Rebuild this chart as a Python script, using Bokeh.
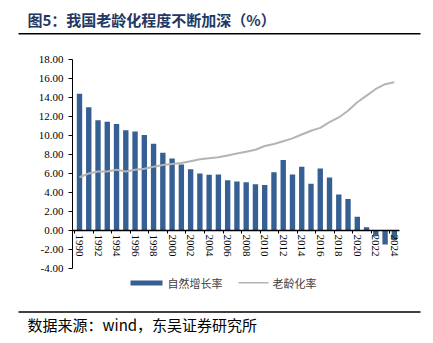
from bokeh.plotting import figure
from bokeh.models import (Range1d, FixedTicker, NumeralTickFormatter, Label,
                          BoxAnnotation, LinearAxis, ColumnDataSource)
from bokeh.embed import file_html
from bokeh.resources import INLINE

years = list(range(1990, 2025))
natural_growth = [14.39, 12.98, 11.60, 11.45, 11.21, 10.55, 10.42, 10.06, 9.14, 8.18,
                  7.58, 6.95, 6.45, 6.01, 5.87, 5.89, 5.28, 5.17, 5.08, 4.87,
                  4.79, 6.13, 7.43, 5.90, 6.71, 4.93, 6.53, 5.58, 3.78, 3.32,
                  1.45, 0.34, -0.60, -1.48, -0.99]
aging_rate = [5.6, 6.0, 6.2, 6.2, 6.4, 6.2, 6.4, 6.5, 6.7, 6.9,
              7.0, 7.1, 7.3, 7.5, 7.6, 7.7, 7.9, 8.1, 8.3, 8.5,
              8.9, 9.1, 9.4, 9.7, 10.1, 10.5, 10.8, 11.4, 11.9, 12.6,
              13.5, 14.2, 14.9, 15.4, 15.6]
y_ticks = [-4, -2, 0, 2, 4, 6, 8, 10, 12, 14, 16, 18]
x_label_years = list(range(1990, 2025, 2))
title_text = "图5：我国老龄化程度不断加深（%）"
source_text = "数据来源：wind，东吴证券研究所"
series_names = ["自然增长率", "老龄化率"]

BAR_COLOR = "#365f93"
LINE_COLOR = "#b4b4b4"

W, H = 433, 343
# pixel layout of the plot area (canvas coords, y down)
PX_1990, PX_PER_YEAR = 79.0, 9.26
PY_ZERO, PX_PER_UNIT = 230.0, 9.5
AXIS_LEFT_PX, AXIS_RIGHT_PX = 72.0, 399.0

x_start = 1990 - PX_1990 / PX_PER_YEAR
x_end = 1990 + (W - PX_1990) / PX_PER_YEAR
y_end = PY_ZERO / PX_PER_UNIT
y_start = (PY_ZERO - H) / PX_PER_UNIT
x_axis_left = 1990 + (AXIS_LEFT_PX - PX_1990) / PX_PER_YEAR
x_axis_right = 1990 + (AXIS_RIGHT_PX - PX_1990) / PX_PER_YEAR

src = ColumnDataSource(dict(year=years, growth=natural_growth, aging=aging_rate))

p = figure(width=W, height=H, output_backend="svg", toolbar_location=None,
           x_range=Range1d(x_start, x_end), y_range=Range1d(y_start, y_end),
           min_border_left=0, min_border_right=0,
           min_border_top=0, min_border_bottom=0)
p.outline_line_color = None
p.xgrid.visible = False
p.ygrid.visible = False
p.background_fill_color = "white"
p.border_fill_color = "white"

p.vbar(x="year", top="growth", bottom=0, width=0.58, source=src,
       fill_color=BAR_COLOR, line_color=None)
p.line(x="year", y="aging", source=src, line_color=LINE_COLOR, line_width=2)

# y axis
ya = p.yaxis[0]
ya.fixed_location = x_axis_left
ya.bounds = (y_ticks[0], y_ticks[-1])
ya.ticker = FixedTicker(ticks=y_ticks)
ya.formatter = NumeralTickFormatter(format="0.00")
ya.major_tick_in = 0
ya.major_tick_out = 4
ya.minor_tick_line_color = None
ya.major_label_standoff = 5
ya.major_label_text_font = "Liberation Serif"
ya.major_label_text_font_size = "11px"
ya.major_label_text_color = "black"
ya.axis_line_color = "black"
ya.major_tick_line_color = "black"

# x axis at zero
xa = p.xaxis[0]
xa.fixed_location = 0
xa.bounds = (x_axis_left, x_axis_right)
xa.ticker = FixedTicker(ticks=x_label_years)
xa.major_label_orientation = "vertical"
xa.major_tick_in = 0
xa.major_tick_out = 0
xa.minor_tick_line_color = None
xa.major_label_standoff = 4
xa.major_label_text_font = "Liberation Serif"
xa.major_label_text_font_size = "11px"
xa.major_label_text_color = "black"
xa.axis_line_color = "black"
xa.axis_line_width = 1.5

tick_pos = [y - 0.5 for y in x_label_years]
xa2 = LinearAxis(ticker=FixedTicker(ticks=tick_pos), fixed_location=0,
                 major_label_overrides={t: "" for t in tick_pos},
                 axis_line_color=None, major_tick_in=0, major_tick_out=3,
                 major_tick_line_color="black", minor_tick_line_color=None)
p.add_layout(xa2, "below")


def sx(cx):
    return cx


def sy(cy):
    return H - cy


def rule(x0, x1, y0, y1, color):
    p.add_layout(BoxAnnotation(left=sx(x0), right=sx(x1), top=sy(y0), bottom=sy(y1),
                               left_units="screen", right_units="screen",
                               top_units="screen", bottom_units="screen",
                               fill_color=color, fill_alpha=1, line_color=None))


def text(cx, cy, s, size, color, bold=False):
    p.add_layout(Label(x=sx(cx), y=sy(cy), x_units="screen", y_units="screen",
                       text=s, text_font="Noto Sans CJK SC", text_font_size=size,
                       text_color=color, text_baseline="middle", text_align="left",
                       text_font_style="bold" if bold else "normal"))


text(27, 19, title_text, "15px", "#1f3864", bold=True)
rule(18, 420, 32.5, 34, "black")
rule(18, 420, 310.7, 312.2, "black")
text(27, 324, source_text, "15px", "black")

rule(130, 162, 280, 285, BAR_COLOR)
text(167, 282.5, series_names[0], "11px", "#404040")
rule(238, 268, 281.5, 283, LINE_COLOR)
text(272, 282.5, series_names[1], "11px", "#404040")

open("out.html", "w").write(file_html(p, INLINE))
